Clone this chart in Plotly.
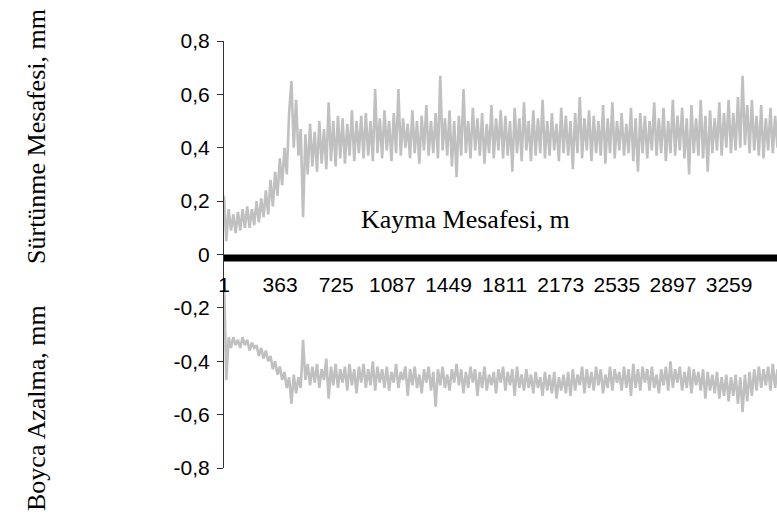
import plotly.graph_objects as go

# Sürtünme mesafesi (mm) - upper series, sampled every 15 m of sliding distance
surtunme = [
    0.22, 0.05, 0.17, 0.09, 0.15, 0.08, 0.16, 0.09, 0.17, 0.10,
    0.18, 0.10, 0.17, 0.11, 0.20, 0.12, 0.21, 0.14, 0.24, 0.15,
    0.28, 0.18, 0.31, 0.22, 0.36, 0.26, 0.40, 0.30, 0.53, 0.65,
    0.40, 0.58, 0.37, 0.47, 0.14, 0.45, 0.30, 0.49, 0.33, 0.46,
    0.31, 0.50, 0.34, 0.47, 0.32, 0.57, 0.35, 0.50, 0.33, 0.52,
    0.36, 0.51, 0.34, 0.49, 0.37, 0.54, 0.35, 0.50, 0.38, 0.52,
    0.36, 0.53, 0.37, 0.50, 0.35, 0.62, 0.38, 0.51, 0.36, 0.54,
    0.39, 0.50, 0.35, 0.53, 0.38, 0.62, 0.37, 0.51, 0.40, 0.49,
    0.36, 0.54, 0.38, 0.50, 0.34, 0.52, 0.39, 0.56, 0.37, 0.50,
    0.38, 0.53, 0.36, 0.67, 0.39, 0.51, 0.37, 0.54, 0.33, 0.50,
    0.29, 0.52, 0.37, 0.62, 0.38, 0.50, 0.36, 0.55, 0.39, 0.51,
    0.37, 0.53, 0.34, 0.49, 0.38, 0.56, 0.36, 0.51, 0.39, 0.54,
    0.36, 0.52, 0.37, 0.50, 0.31, 0.55, 0.38, 0.51, 0.35, 0.57,
    0.39, 0.50, 0.35, 0.54, 0.37, 0.51, 0.38, 0.58, 0.36, 0.50,
    0.37, 0.53, 0.39, 0.49, 0.35, 0.55, 0.38, 0.52, 0.37, 0.50,
    0.32, 0.53, 0.38, 0.59, 0.36, 0.51, 0.39, 0.54, 0.35, 0.52,
    0.38, 0.50, 0.37, 0.56, 0.34, 0.51, 0.38, 0.57, 0.36, 0.50,
    0.39, 0.53, 0.37, 0.49, 0.38, 0.55, 0.35, 0.51, 0.31, 0.53,
    0.38, 0.52, 0.36, 0.50, 0.39, 0.57, 0.37, 0.51, 0.38, 0.55,
    0.35, 0.50, 0.38, 0.58, 0.37, 0.52, 0.39, 0.55, 0.36, 0.51,
    0.30, 0.56, 0.38, 0.51, 0.37, 0.58, 0.36, 0.52, 0.31, 0.54,
    0.38, 0.51, 0.39, 0.57, 0.37, 0.53, 0.40, 0.58, 0.38, 0.53,
    0.39, 0.59, 0.40, 0.67, 0.41, 0.56, 0.38, 0.58, 0.39, 0.52,
    0.37, 0.56, 0.36, 0.51, 0.39, 0.55, 0.38, 0.52, 0.40,
]

# Boyca azalma (mm) - lower series, same sampling
boyca = [
    -0.09, -0.47, -0.31, -0.35, -0.31, -0.34, -0.32, -0.35, -0.31, -0.34,
    -0.32, -0.36, -0.33, -0.35, -0.34, -0.38, -0.35, -0.39, -0.36, -0.40,
    -0.38, -0.43, -0.40, -0.45, -0.42, -0.47, -0.44, -0.50, -0.46, -0.56,
    -0.45, -0.52, -0.46, -0.50, -0.32, -0.47, -0.41, -0.49, -0.42, -0.48,
    -0.41, -0.50, -0.43, -0.47, -0.39, -0.54, -0.42, -0.49, -0.41, -0.50,
    -0.43, -0.48, -0.42, -0.51, -0.41, -0.49, -0.43, -0.52, -0.42, -0.48,
    -0.41, -0.50, -0.43, -0.49, -0.40, -0.51, -0.42, -0.48, -0.43, -0.50,
    -0.42, -0.51, -0.44, -0.48, -0.41, -0.50, -0.44, -0.47, -0.42, -0.53,
    -0.43, -0.49, -0.42, -0.50, -0.45, -0.52, -0.43, -0.48, -0.42, -0.51,
    -0.44, -0.57, -0.43, -0.49, -0.42, -0.50, -0.45, -0.51, -0.43, -0.48,
    -0.41, -0.49, -0.43, -0.52, -0.44, -0.50, -0.42, -0.48, -0.43, -0.53,
    -0.44, -0.50, -0.42, -0.51, -0.45, -0.49, -0.44, -0.52, -0.43, -0.48,
    -0.42, -0.51, -0.44, -0.49, -0.43, -0.53, -0.42, -0.50, -0.45, -0.51,
    -0.43, -0.50, -0.45, -0.52, -0.44, -0.50, -0.46, -0.53, -0.44, -0.51,
    -0.45, -0.52, -0.44, -0.54, -0.46, -0.51, -0.45, -0.52, -0.44, -0.53,
    -0.43, -0.51, -0.45, -0.49, -0.42, -0.52, -0.43, -0.50, -0.44, -0.51,
    -0.42, -0.49, -0.43, -0.52, -0.45, -0.50, -0.42, -0.51, -0.43, -0.48,
    -0.44, -0.51, -0.42, -0.50, -0.43, -0.53, -0.41, -0.50, -0.43, -0.51,
    -0.42, -0.48, -0.43, -0.51, -0.42, -0.50, -0.45, -0.52, -0.43, -0.49,
    -0.42, -0.51, -0.40, -0.50, -0.43, -0.48, -0.42, -0.51, -0.44, -0.50,
    -0.42, -0.52, -0.43, -0.49, -0.44, -0.51, -0.43, -0.54, -0.44, -0.51,
    -0.45, -0.52, -0.44, -0.54, -0.46, -0.53, -0.45, -0.55, -0.46, -0.53,
    -0.45, -0.56, -0.46, -0.59, -0.45, -0.55, -0.44, -0.53, -0.43, -0.51,
    -0.42, -0.50, -0.43, -0.49, -0.42, -0.51, -0.41, -0.50, -0.43,
]

ornek_adimi = 15  # metres between stored samples
kayma = [1 + ornek_adimi * i for i in range(len(surtunme))]

x_tick_labels = ["1", "363", "725", "1087", "1449", "1811", "2173", "2535", "2897", "3259"]
y_tick_vals = [-0.8, -0.6, -0.4, -0.2, 0, 0.2, 0.4, 0.6, 0.8]
y_tick_text = ["-0,8", "-0,6", "-0,4", "-0,2", "0", "0,2", "0,4", "0,6", "0,8"]

GRAY = "#C0C0C0"
SANS = "Liberation Sans, Arial, sans-serif"
SERIF = "Liberation Serif, Times New Roman, serif"

fig = go.Figure()
fig.add_trace(go.Scatter(x=kayma, y=surtunme, mode="lines",
                         line=dict(color=GRAY, width=2.6), hoverinfo="skip"))
fig.add_trace(go.Scatter(x=kayma, y=boyca, mode="lines",
                         line=dict(color=GRAY, width=2.6), hoverinfo="skip"))

fig.update_layout(
    width=777, height=527,
    margin=dict(l=224, r=0, t=41, b=59, pad=0),
    paper_bgcolor="white", plot_bgcolor="white",
    showlegend=False,
    xaxis=dict(
        range=[1, 3568],
        tickmode="array",
        tickvals=[int(t) for t in x_tick_labels],
        ticktext=x_tick_labels,
        anchor="free", position=0.5,
        showline=False, showgrid=False, zeroline=False,
        ticks="outside", ticklen=11, tickcolor="rgba(0,0,0,0)",
        tickfont=dict(family=SANS, size=21, color="black"),
    ),
    yaxis=dict(
        range=[-0.8, 0.8],
        tickmode="array",
        tickvals=y_tick_vals, ticktext=y_tick_text,
        showline=True, linecolor="#333333", linewidth=1,
        ticks="outside", ticklen=6, tickcolor="#333333", tickwidth=1,
        ticklabelstandoff=3,
        showgrid=False, zeroline=False,
        tickfont=dict(family=SANS, size=21, color="black"),
    ),
    shapes=[dict(
        type="rect", xref="paper", x0=0, x1=1,
        yref="y", ysizemode="pixel", yanchor=0, y0=0, y1=-7,
        fillcolor="black", line=dict(width=0), layer="above",
    )],
    annotations=[
        dict(text="Kayma Mesafesi, m", xref="paper", yref="paper",
             x=0.4376, y=0.583, xanchor="center", yanchor="middle",
             showarrow=False, font=dict(family=SERIF, size=26, color="black")),
        dict(text="Sürtünme Mesafesi, mm", xref="paper", yref="paper",
             x=-0.34, y=0.7775, xanchor="center", yanchor="middle", textangle=-90,
             showarrow=False, font=dict(family=SERIF, size=26, color="black")),
        dict(text="Boyca Azalma, mm", xref="paper", yref="paper",
             x=-0.34, y=0.1405, xanchor="center", yanchor="middle", textangle=-90,
             showarrow=False, font=dict(family=SERIF, size=26, color="black")),
    ],
)

fig.write_html("out.html")
